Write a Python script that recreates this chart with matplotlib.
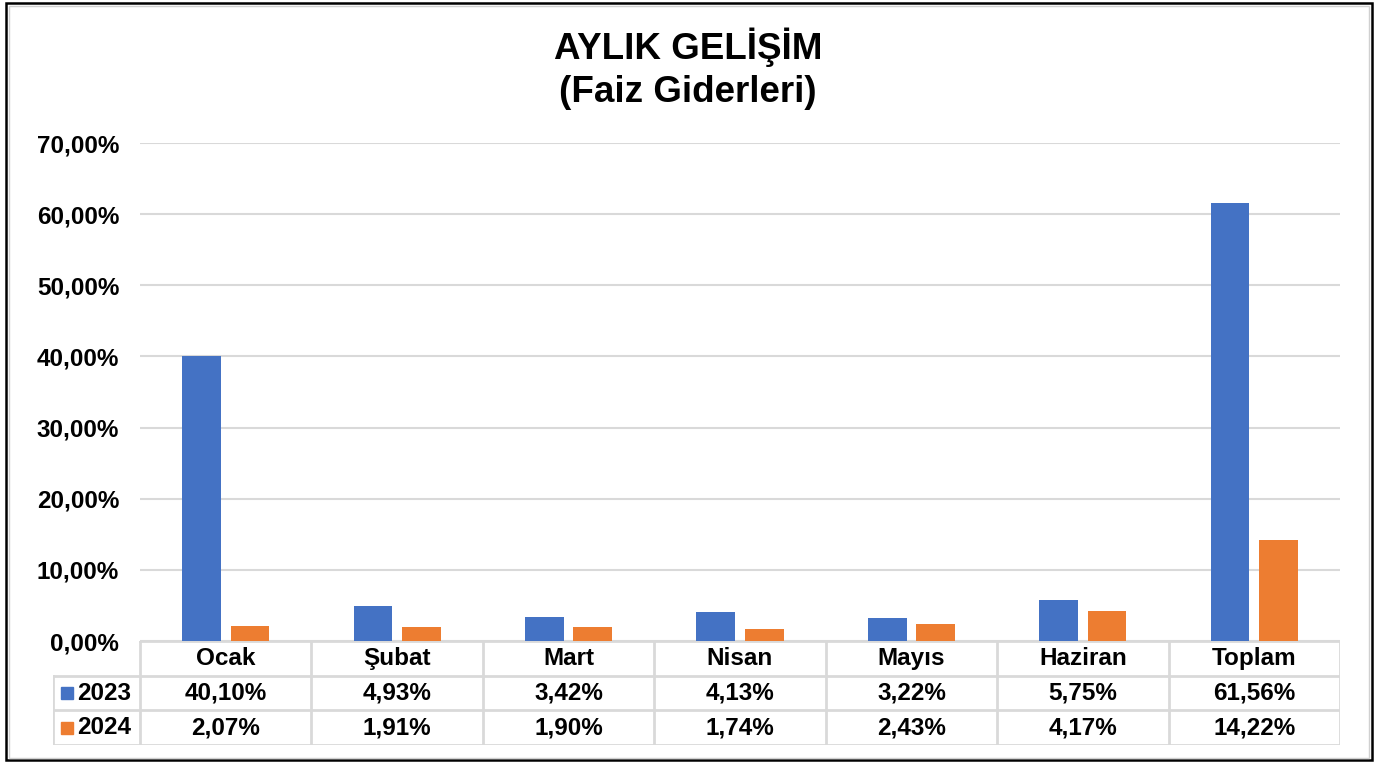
import matplotlib.pyplot as plt
import matplotlib
from matplotlib.patches import Rectangle
from matplotlib.ticker import FuncFormatter

matplotlib.rcParams['font.family'] = ['Liberation Sans', 'DejaVu Sans']
matplotlib.rcParams['font.weight'] = 'bold'

# Data
months = ["Ocak", "Şubat", "Mart", "Nisan", "Mayıs", "Haziran", "Toplam"]
series_names = ["2023", "2024"]
vals_2023 = [40.10, 4.93, 3.42, 4.13, 3.22, 5.75, 61.56]
vals_2024 = [2.07, 1.91, 1.90, 1.74, 2.43, 4.17, 14.22]
colors = ["#4472C4", "#ED7D31"]

W, H = 1378, 762
fig = plt.figure(figsize=(W / 100, H / 100), dpi=100)

def px_axes(x0, y0, x1, y1):
    # pixel box (top-left origin) -> figure axes
    return fig.add_axes([x0 / W, 1 - y1 / H, (x1 - x0) / W, (y1 - y0) / H])

# outer border
fig.patches.append(Rectangle((5.5 / W, 2 / H), (W - 12) / W, (H - 5) / H,
                             transform=fig.transFigure, fill=False,
                             edgecolor='black', linewidth=1.8))
fig.patches.append(Rectangle((8.5 / W, 4.5 / H), (W - 18) / W, (H - 10) / H,
                             transform=fig.transFigure, fill=False,
                             edgecolor='#d0d0d0', linewidth=1.0))

# title
fig.text(688 / W, 1 - 47 / H, "AYLIK GELİŞİM", ha='center', va='center',
         fontsize=26.5, fontweight='bold')
fig.text(688 / W, 1 - 92 / H, "(Faiz Giderleri)", ha='center', va='center',
         fontsize=26.5, fontweight='bold')

# main bar axes
left, right, top, bottom = 140, 1340, 143, 641
ax = px_axes(left, top, right, bottom)
x = list(range(len(months)))
bw = 0.226
off = 0.141
ax.bar([i - off for i in x], vals_2023, width=bw, color=colors[0], zorder=3)
ax.bar([i + off for i in x], vals_2024, width=bw, color=colors[1], zorder=3)
ax.set_xlim(-0.5, len(months) - 0.5)
ax.set_ylim(0, 70)
ax.set_yticks(range(0, 71, 10))
ax.yaxis.set_major_formatter(FuncFormatter(lambda v, p: f"{v:.2f}%".replace('.', ',')))
ax.tick_params(axis='y', length=0, pad=15, labelsize=17.5)
ax.tick_params(axis='x', length=0, labelbottom=False)
ax.grid(axis='y', color='#d9d9d9', linewidth=1.5, zorder=0)
for s in ['top', 'right', 'left', 'bottom']:
    ax.spines[s].set_visible(False)
for lbl in ax.get_yticklabels():
    lbl.set_fontweight('bold')

# data table
legend_px = 87
unit = (right - left) / len(months)
tx0 = -0.5 - legend_px / unit
tab = px_axes(left - legend_px, 641, right, 745)
tab.set_xlim(tx0, len(months) - 0.5)
tab.set_ylim(3, 0)
tab.axis('off')
lc = '#d9d9d9'
lw = 2
# horizontal lines
tab.plot([-0.5, len(months) - 0.5], [0, 0], color=lc, lw=lw)
for yy in [1, 2, 3]:
    tab.plot([tx0, len(months) - 0.5], [yy, yy], color=lc, lw=lw)
# vertical lines
tab.plot([tx0, tx0], [1, 3], color=lc, lw=lw)
for i in range(len(months) + 1):
    tab.plot([i - 0.5, i - 0.5], [0, 3], color=lc, lw=lw)

fs = 17.5
for i, m in enumerate(months):
    tab.text(i, 0.5, m, ha='center', va='center', fontsize=fs, fontweight='bold')
    tab.text(i, 1.5, f"{vals_2023[i]:.2f}%".replace('.', ','), ha='center',
             va='center', fontsize=fs, fontweight='bold')
    tab.text(i, 2.5, f"{vals_2024[i]:.2f}%".replace('.', ','), ha='center',
             va='center', fontsize=fs, fontweight='bold')

key_w = 12 / unit
for r, (name, c) in enumerate(zip(series_names, colors)):
    ky = 1.5 + r
    kx = tx0 + 8 / unit
    tab.add_patch(Rectangle((kx, ky - 0.17), key_w, 0.34, color=c, clip_on=False))
    tab.text(kx + key_w + 4 / unit, ky, name, ha='left', va='center',
             fontsize=fs, fontweight='bold')

fig.savefig("out.png", dpi=100)
